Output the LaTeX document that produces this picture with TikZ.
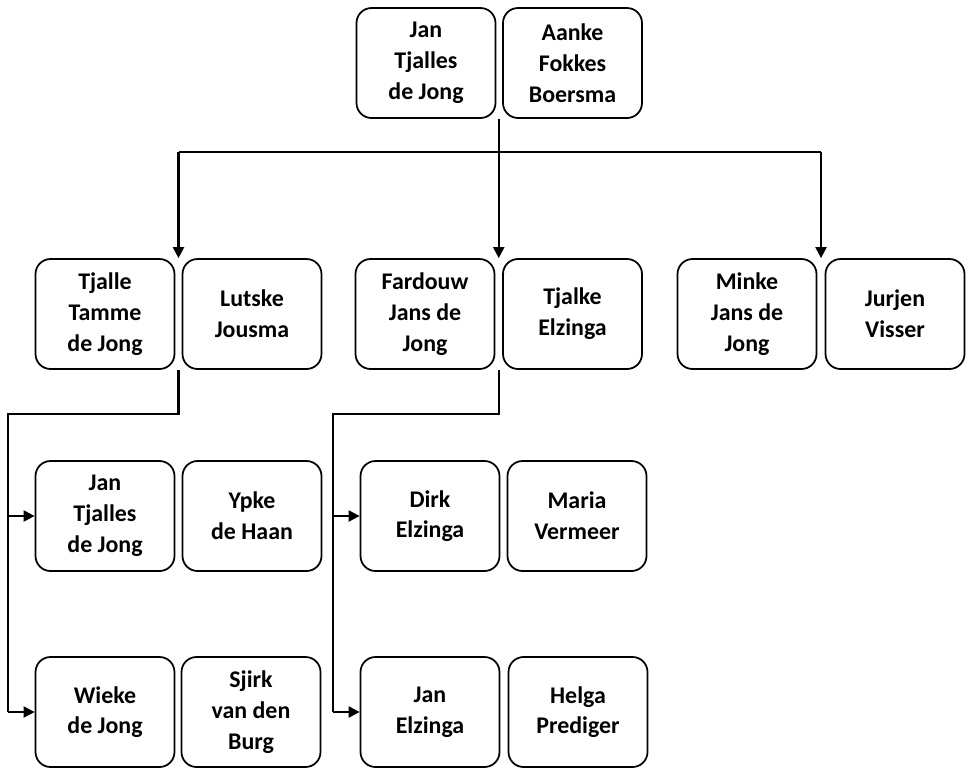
\documentclass[tikz,border=0pt]{standalone}
\usepackage{fontspec}
\setmainfont{Carlito}
\usetikzlibrary{arrows.meta,calc}

\begin{document}
\begin{tikzpicture}[x=0.02cm,y=-0.02cm,
  person/.style={draw,rounded corners=0.3cm,line width=1pt,minimum width=2.78cm,minimum height=2.2cm,align=center,inner sep=0pt,font=\bfseries\fontsize{13.6}{17.5}\selectfont},
  wire/.style={line width=1.2pt},
  link/.style={line width=1.2pt,-{Triangle[length=0.22cm,width=0.22cm]}}]

\useasboundingbox (0,0) rectangle (970,769);

% parents
\node at (426,63) [person] (JanT) {Jan\\Tjalles\\de Jong};
\node at (572.5,63) [person] (Aanke) {Aanke\\Fokkes\\Boersma};

% children
\node at (105,314) [person] (Tjalle) {Tjalle\\Tamme\\de Jong};
\node at (252,314) [person] (Lutske) {Lutske\\Jousma};
\node at (425,314) [person] (Fardouw) {Fardouw\\Jans de\\Jong};
\node at (572.5,314) [person] (Tjalke) {Tjalke\\Elzinga};
\node at (747,314) [person] (Minke) {Minke\\Jans de\\Jong};
\node at (895,314) [person] (Jurjen) {Jurjen\\Visser};

% grandchildren
\node at (105,516) [person] (JanJ) {Jan\\Tjalles\\de Jong};
\node at (252,516) [person] (Ypke) {Ypke\\de Haan};
\node at (105,712) [person] (Wieke) {Wieke\\de Jong};
\node at (251,712) [person] (Sjirk) {Sjirk\\van den\\Burg};
\node at (430,516) [person] (Dirk) {Dirk\\Elzinga};
\node at (577,516) [person] (Maria) {Maria\\Vermeer};
\node at (430,712) [person] (JanE) {Jan\\Elzinga};
\node at (578,712) [person] (Helga) {Helga\\Prediger};

% couples
\coordinate (top) at ($(JanT.south east)!0.5!(Aanke.south west)$);
\coordinate (inL) at ($(Tjalle.north east)!0.5!(Lutske.north west)$);
\coordinate (inM) at ($(Fardouw.north east)!0.5!(Tjalke.north west)$);
\coordinate (inR) at ($(Minke.north east)!0.5!(Jurjen.north west)$);
\coordinate (outL) at ($(Tjalle.south east)!0.5!(Lutske.south west)$);
\coordinate (outM) at ($(Fardouw.south east)!0.5!(Tjalke.south west)$);

% bus lines
\coordinate (bus) at (500,152);
\coordinate (railL) at (8,414);
\coordinate (railM) at (333,414);

\draw[wire] (top) -- (top |- bus);
\draw[wire] (inL |- bus) -- (inR |- bus);
\draw[link] (inL |- bus) -- (inL);
\draw[link] (inM |- bus) -- (inM);
\draw[link] (inR |- bus) -- (inR);

\draw[wire] (outL) -- (outL |- railL) -- (railL) -- (railL |- Wieke.west);
\draw[link] (railL |- JanJ.west) -- (JanJ.west);
\draw[link] (railL |- Wieke.west) -- (Wieke.west);

\draw[wire] (outM) -- (outM |- railM) -- (railM) -- (railM |- JanE.west);
\draw[link] (railM |- Dirk.west) -- (Dirk.west);
\draw[link] (railM |- JanE.west) -- (JanE.west);

\end{tikzpicture}
\end{document}
